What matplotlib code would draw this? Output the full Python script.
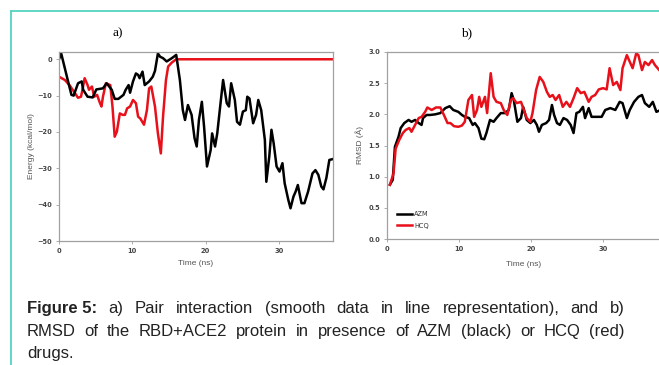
import numpy as np
import matplotlib
matplotlib.use("Agg")
import matplotlib.pyplot as plt
from matplotlib.lines import Line2D

# ---- data ----
# a) pair interaction energy (kcal/mol)
azm_e_t = [0, 0.3, 1.3, 1.7, 2.0, 2.6, 3.1, 3.3, 3.9, 4.6, 5.1, 6.0, 6.5, 7.2, 7.6, 8.1,
           8.8, 9.1, 9.5, 9.7, 10.1, 10.5, 10.8, 11.0, 11.4, 11.7, 12.3, 12.8, 13.1, 13.5,
           13.8, 14.2, 14.7, 15.4, 16.0, 16.5, 16.9, 17.2, 17.6, 18.1, 18.5, 18.8, 19.1,
           19.5, 19.8, 20.2, 20.7, 20.9, 21.3, 21.6, 22.0, 22.4, 22.9, 23.2, 23.5, 24.0,
           24.3, 24.7, 25.1, 25.5, 25.7, 26.0, 26.5, 26.9, 27.2, 27.6, 28.1, 28.3, 28.7,
           29.0, 29.3, 29.7, 30.1, 30.5, 30.8, 31.3, 31.6, 32.0, 32.3, 32.6, 33.1, 33.5,
           34.0, 34.6, 35.0, 35.4, 35.8, 36.1, 36.5, 36.9, 37.3]
azm_e = [0, 1.6, -6.6, -9.8, -10, -6.6, -6.1, -8.4, -10.3, -10.5, -8.3, -8, -6.6, -8.4,
         -10.9, -10.9, -9.8, -8.4, -7.1, -9.2, -6.1, -3.9, -4.3, -5.2, -3.4, -7.1, -6.1,
         -4.8, -3.2, 1.6, 0.7, 0.3, -0.6, 0.3, 1.2, -5.7, -14, -16.7, -12.6, -15.3, -21.7,
         -24, -16.7, -11.7, -18.5, -29.5, -25, -20.4, -24, -20.4, -13, -5.7, -12.1, -13,
         -6.6, -11.2, -17.2, -18, -14.4, -14, -10.3, -10.8, -17.6, -15.3, -11.2, -14,
         -22.2, -33.7, -26.8, -19.4, -23.1, -29.5, -30.9, -28.6, -34.1, -38.7, -41, -37.8,
         -36.4, -34.6, -39.6, -39.6, -36.4, -31.4, -30.5, -31.8, -35, -35.8, -32.6, -27.7,
         -27.5]
hcq_e_t = [0, 0.8, 1.5, 2.2, 2.6, 3.0, 3.2, 3.5, 3.9, 4.1, 4.5, 4.8, 5.2, 5.6, 5.8, 6.0,
           6.4, 7.0, 7.3, 7.6, 7.9, 8.3, 8.7, 9.0, 9.3, 9.7, 10.1, 10.5, 10.8, 11.1, 11.6,
           12.0, 12.3, 12.6, 13.1, 13.5, 13.9, 14.2, 14.6, 14.9, 15.4, 16.0, 20, 30, 37.5]
hcq_e = [-4.8, -5.7, -7.3, -9.4, -10.6, -10.3, -8.4, -5.2, -7.1, -8.4, -7.5, -10.3, -9.8,
         -12.1, -13, -10.3, -6.6, -7.1, -13, -21.3, -19.9, -14.9, -15.3, -15.3, -13.5, -13,
         -11.2, -12.1, -15.8, -16.3, -18, -14, -8, -7.5, -13, -20.4, -25.9, -15.8, -5.7,
         -2, -0.9, 0, 0, 0, 0]

# b) RMSD (A)
azm_r_t = [0.4, 0.8, 1.1, 1.6, 1.9, 2.4, 3.0, 3.4, 3.9, 4.4, 4.8, 5.0, 5.5, 6.0, 6.7, 7.4,
           8.1, 8.7, 9.2, 9.9, 10.4, 10.8, 11.4, 11.9, 12.2, 12.7, 13.1, 13.5, 13.8, 14.3,
           14.8, 15.2, 15.8, 16.4, 16.9, 17.3, 17.6, 18.1, 18.6, 18.9, 19.4, 19.9, 20.4,
           20.8, 21.1, 21.5, 22.1, 22.5, 22.9, 23.2, 23.6, 24.0, 24.5, 25.0, 25.5, 25.9,
           26.3, 26.7, 27.2, 27.5, 28.0, 28.4, 29.1, 29.8, 30.3, 31.0, 31.7, 32.3, 32.7,
           33.3, 33.7, 34.3, 34.9, 35.4, 35.8, 36.4, 36.9, 37.4, 37.8]
azm_r = [0.87, 0.95, 1.48, 1.64, 1.78, 1.86, 1.91, 1.88, 1.91, 1.86, 1.83, 1.94, 1.99,
         1.99, 2.0, 2.02, 2.1, 2.13, 2.07, 2.04, 1.99, 1.96, 1.94, 1.83, 1.86, 1.78, 1.61,
         1.6, 1.7, 1.91, 1.88, 1.94, 2.02, 2.02, 2.07, 2.34, 2.23, 1.88, 1.94, 2.12, 1.91,
         1.86, 1.91, 1.83, 1.72, 1.83, 1.86, 1.91, 2.15, 1.99, 1.86, 1.83, 1.94, 1.91,
         1.83, 1.7, 2.02, 2.04, 2.12, 1.94, 2.1, 1.96, 1.96, 1.96, 2.07, 2.1, 2.07, 2.2,
         2.18, 1.94, 2.07, 2.2, 2.28, 2.31, 2.18, 2.12, 2.2, 2.04, 2.06]
hcq_r_t = [0.4, 0.9, 1.2, 1.7, 2.2, 2.6, 3.1, 3.4, 3.9, 4.4, 4.8, 5.3, 5.6, 6.2, 6.8, 7.4,
           7.9, 8.4, 8.8, 9.3, 9.9, 10.4, 10.8, 11.3, 11.8, 12.1, 12.5, 12.8, 13.1, 13.6,
           13.9, 14.4, 14.8, 15.2, 15.8, 16.2, 16.7, 17.2, 17.5, 18.0, 18.6, 19.0, 19.4,
           19.9, 20.2, 20.7, 21.2, 21.7, 22.2, 22.6, 23.0, 23.4, 23.9, 24.4, 24.9, 25.4,
           25.9, 26.4, 26.9, 27.4, 28.0, 28.4, 28.9, 29.4, 30.0, 30.5, 30.9, 31.4, 31.9,
           32.4, 32.7, 33.3, 33.6, 34.1, 34.6, 34.9, 35.4, 35.8, 36.3, 36.8, 37.2, 37.8]
hcq_r = [0.87, 1.05, 1.45, 1.59, 1.7, 1.75, 1.78, 1.72, 1.83, 1.94, 1.96, 2.04, 2.11,
         2.07, 2.11, 2.11, 1.99, 1.86, 1.86, 1.81, 1.8, 1.82, 1.88, 2.23, 2.31, 1.96, 2.07,
         2.28, 2.12, 2.28, 2.02, 2.66, 2.28, 2.2, 2.18, 2.07, 1.99, 2.23, 2.26, 2.18, 2.2,
         2.07, 1.94, 1.88, 2.02, 2.39, 2.6, 2.52, 2.36, 2.28, 2.31, 2.23, 2.31, 2.12, 2.2,
         2.12, 2.26, 2.42, 2.34, 2.36, 2.2, 2.28, 2.31, 2.4, 2.42, 2.4, 2.74, 2.47, 2.52,
         2.39, 2.74, 2.95, 2.87, 2.74, 2.98, 2.95, 2.71, 2.84, 2.79, 2.87, 2.79, 2.71]

series_names = ["AZM", "HCQ"]
series_colors = ["black", "#e8101a"]

caption_lines = [
    ["Figure 5:", "a)", "Pair", "interaction", "(smooth", "data", "in", "line",
     "representation),", "and", "b)"],
    ["RMSD", "of", "the", "RBD+ACE2", "protein", "in", "presence", "of", "AZM",
     "(black)", "or", "HCQ", "(red)"],
    ["drugs."],
]

W, H = 659, 365
fig = plt.figure(figsize=(W / 100, H / 100), dpi=100)
fig.patch.set_facecolor("white")

teal = "#55d4bf"
fig.add_artist(Line2D([11 / W, 11 / W], [0, 1 - 11 / H], color=teal, lw=1.3))
fig.add_artist(Line2D([11 / W, 1], [1 - 11 / H, 1 - 11 / H], color=teal, lw=1.3))

spine_c = "#a0a0a0"
tick_kw = dict(labelsize=4.8, colors="#444444", length=2, width=0.6, pad=3)


def style(ax):
    for s in ax.spines.values():
        s.set_color(spine_c)
        s.set_linewidth(0.9)
    ax.tick_params(**tick_kw)
    ax.tick_params(color=spine_c)
    for lab in ax.get_xticklabels() + ax.get_yticklabels():
        lab.set_fontweight("bold")


# panel a
ax1 = fig.add_axes([59 / W, 1 - 241 / H, (333 - 59) / W, (241 - 52) / H])
ax1.plot(hcq_e_t, hcq_e, color=series_colors[1], lw=1.8)
ax1.plot(azm_e_t, azm_e, color=series_colors[0], lw=1.8)
ax1.set_xlim(0, 37.4)
ax1.set_ylim(-50, 2)
ax1.set_xticks([0, 10, 20, 30])
ax1.set_yticks([0, -10, -20, -30, -40, -50])
ax1.set_xlabel("Time (ns)", fontsize=6, color="#555555", family="Liberation Sans", labelpad=4.5)
ax1.set_ylabel("Energy (kcal/mol)", fontsize=6, color="#555555", family="Liberation Sans", labelpad=2)
style(ax1)
fig.text(118 / W, 1 - 33 / H, "a)", family="Liberation Serif", fontsize=9.5,
         ha="center", va="center")

# panel b
ax2 = fig.add_axes([387 / W, 1 - 239 / H, (660 - 387) / W, (239 - 52) / H])
ax2.plot(azm_r_t, azm_r, color=series_colors[0], lw=1.8, label=series_names[0])
ax2.plot(hcq_r_t, hcq_r, color=series_colors[1], lw=1.8, label=series_names[1])
ax2.set_xlim(0, 37.9)
ax2.set_ylim(0, 3)
ax2.set_xticks([0, 10, 20, 30])
ax2.set_yticks([0.0, 0.5, 1.0, 1.5, 2.0, 2.5, 3.0])
ax2.set_yticklabels(["0.0", "0.5", "1.0", "1.5", "2.0", "2.5", "3.0"])
ax2.set_xlabel("Time (ns)", fontsize=6, color="#555555", family="Liberation Sans", labelpad=6.5)
ax2.set_ylabel("RMSD (Å)", fontsize=6, color="#555555", family="Liberation Sans", labelpad=3)
style(ax2)
leg = ax2.legend(loc="lower left", bbox_to_anchor=(0.035, 0.056), frameon=False,
                 fontsize=4.8, handlelength=2.3, handletextpad=0.3, borderpad=0,
                 borderaxespad=0, labelspacing=0.8)
for t in leg.get_texts():
    t.set_color("#333333")
fig.text(467 / W, 1 - 33 / H, "b)", family="Liberation Serif", fontsize=9.5,
         ha="center", va="center")

# caption, justified between x=27 and x=625
x0, x1 = 27, 625
baselines = [313, 336, 358]
fig.canvas.draw()
r = fig.canvas.get_renderer()
for li, words in enumerate(caption_lines):
    arts = []
    for wi, w in enumerate(words):
        bold = (li == 0 and wi == 0)
        a = fig.text(0, 1 - baselines[li] / H, w, family="Liberation Sans",
                     fontsize=12, fontweight="bold" if bold else "normal",
                     color="#222222", va="baseline", ha="left")
        arts.append(a)
    widths = [a.get_window_extent(r).width for a in arts]
    if len(words) > 1 and li < len(caption_lines) - 1:
        gap = (x1 - x0 - sum(widths)) / (len(words) - 1)
    else:
        gap = 4
    x = x0
    for a, wd in zip(arts, widths):
        a.set_x(x / W)
        x += wd + gap

fig.savefig("out.png", dpi=100, facecolor="white")
